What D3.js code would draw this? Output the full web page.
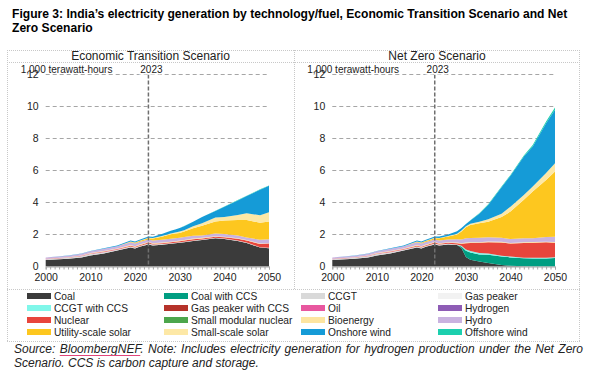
<!DOCTYPE html>
<html>
<head>
<meta charset="utf-8">
<script src="https://cdn.jsdelivr.net/npm/d3@7"></script>
<style>
  body { margin: 0; background: #fff; }
  text { font-family: "Liberation Sans", Arial, sans-serif; }
</style>
</head>
<body>
<div id="chart"></div>
<script>
// values in 1,000 terawatt-hours
var years = [2000, 2005, 2008, 2010, 2013, 2016, 2019, 2020, 2021, 2023, 2024, 2026,
             2028, 2029, 2030, 2031, 2033, 2035, 2038, 2040, 2043, 2045, 2048, 2050];

// Economic Transition Scenario
var etsCoal     = [.41,.48,.57,.68,.82,1.0,1.18,1.12,1.23,1.38,1.32,1.36,1.42,1.45,1.48,1.52,1.6,1.66,1.76,1.72,1.6,1.47,1.18,1.14];
var etsCcgt     = [.05,.06,.07,.10,.07,.05,.07,.065,.05,.06,.05,.04,.03,.03,.03,.03,.03,.03,.03,.03,.03,.03,.03,.03];
var etsOil      = [.01,.01,.01,.01,.01,.005,.005,.005,.005,.005,0,0,0,0,0,0,0,0,0,0,0,0,0,0];
var etsNuclear  = [.017,.017,.015,.026,.034,.038,.045,.043,.047,.048,.05,.055,.06,.065,.07,.07,.075,.06,.07,.08,.1,.12,.2,.26];
var etsBio      = [.005,.01,.015,.02,.03,.035,.04,.04,.04,.04,.04,.04,.04,.04,.04,.04,.04,.04,.03,.03,.03,.03,.03,.03];
var etsHydro    = [.075,.10,.115,.115,.14,.13,.17,.16,.16,.15,.16,.17,.18,.18,.18,.18,.18,.15,.17,.17,.17,.17,.23,.25];
var etsUSolar   = [0,0,0,0,.003,.012,.04,.05,.06,.09,.13,.2,.28,.29,.3,.34,.47,.6,.75,.85,.97,1.08,1.07,1.1];
var etsSSolar   = [0,0,0,0,0,.002,.01,.012,.015,.02,.025,.04,.06,.07,.08,.09,.12,.17,.25,.22,.32,.43,.46,.58];
var etsOnshore  = [.002,.006,.015,.02,.035,.045,.065,.06,.07,.08,.09,.12,.16,.19,.22,.25,.28,.38,.41,.63,.91,1.07,1.6,1.65];
var etsOffshore = [0,0,0,0,0,0,0,0,0,0,0,0,0,.002,.004,.005,.007,.01,.012,.015,.02,.022,.025,.03];

// Net Zero Scenario
var nzsCoal     = [.41,.48,.57,.68,.82,1.0,1.18,1.12,1.23,1.38,1.32,1.38,1.35,1.15,.6,.42,.32,.22,.1,.05,.01,0,0,0];
var nzsCoalCcs  = [0,0,0,0,0,0,0,0,0,0,0,0,0,.1,.38,.45,.43,.52,.52,.52,.5,.5,.5,.53];
var nzsCcgt     = [.05,.06,.07,.10,.07,.05,.07,.065,.05,.06,.05,.04,.03,.02,.01,0,0,0,0,0,0,0,0,0];
var nzsCcgtCcs  = [0,0,0,0,0,0,0,0,0,0,0,0,0,.03,.08,.1,.09,.08,.05,.05,.04,.05,.05,.05];
var nzsOil      = [.01,.01,.01,.01,.01,.005,.005,.005,.005,.005,0,0,0,0,0,0,0,0,0,0,0,0,0,0];
var nzsNuclear  = [.017,.017,.015,.026,.034,.038,.045,.043,.047,.048,.05,.06,.08,.12,.39,.5,.64,.7,.83,.81,.92,.94,.96,.91];
var nzsBio      = [.005,.01,.015,.02,.03,.035,.04,.04,.04,.04,.04,.04,.04,.04,.04,.04,.04,.04,.04,.04,.04,.04,.04,.04];
var nzsHydro    = [.075,.10,.115,.115,.14,.13,.17,.16,.16,.15,.16,.17,.2,.23,.27,.27,.28,.27,.26,.25,.26,.23,.3,.33];
var nzsUSolar   = [0,0,0,0,.003,.012,.04,.05,.06,.09,.14,.18,.3,.5,.68,.82,.9,.97,1.3,1.71,2.4,2.92,3.55,4.07];
var nzsSSolar   = [0,0,0,0,0,.002,.01,.012,.015,.02,.025,.03,.05,.06,.06,.07,.1,.15,.2,.31,.3,.32,.45,.52];
var nzsOnshore  = [.002,.006,.015,.02,.035,.045,.065,.06,.07,.08,.09,.1,.15,.15,.14,.2,.5,.9,1.65,1.93,2.4,2.5,3.1,3.35];
var nzsOffshore = [0,0,0,0,0,0,0,0,0,0,0,0,0,0,.01,.02,.03,.04,.05,.05,.07,.1,.12,.13];

var seriesNames = ["Coal", "Coal with CCS", "CCGT", "Gas peaker",
                   "CCGT with CCS", "Gas peaker with CCS", "Oil", "Hydrogen",
                   "Nuclear", "Small modular nuclear", "Bioenergy", "Hydro",
                   "Utility-scale solar", "Small-scale solar", "Onshore wind", "Offshore wind"];
var seriesColors = ["#3b3b3b", "#009e82", "#d9d9d9", "#f2f2f2",
                    "#80f7ea", "#b5322a", "#e8579f", "#8e5cb5",
                    "#e8453c", "#4ca64c", "#fde5a0", "#c9b3e0",
                    "#fdc71f", "#fde8a6", "#159bd7", "#1ccfae"];
var yTicks = [0, 2, 4, 6, 8, 10, 12];
var xLabels = [2000, 2010, 2020, 2030, 2040, 2050];

var etsSeries = {"Coal": etsCoal, "CCGT": etsCcgt, "Oil": etsOil, "Nuclear": etsNuclear,
                 "Bioenergy": etsBio, "Hydro": etsHydro, "Utility-scale solar": etsUSolar,
                 "Small-scale solar": etsSSolar, "Onshore wind": etsOnshore, "Offshore wind": etsOffshore};
var nzsSeries = {"Coal": nzsCoal, "Coal with CCS": nzsCoalCcs, "CCGT": nzsCcgt, "CCGT with CCS": nzsCcgtCcs,
                 "Oil": nzsOil, "Nuclear": nzsNuclear, "Bioenergy": nzsBio, "Hydro": nzsHydro,
                 "Utility-scale solar": nzsUSolar, "Small-scale solar": nzsSSolar,
                 "Onshore wind": nzsOnshore, "Offshore wind": nzsOffshore};

function buildRows(series) {
    return years.map(function(yr, i) {
        var row = {year: yr};
        seriesNames.forEach(function(name) {
            row[name] = series[name] ? series[name][i] : 0;
        });
        return row;
    });
}

var svg = d3.select("#chart").append("svg")
    .attr("width", 600)
    .attr("height", 374);

svg.append("rect").attr("width", 600).attr("height", 374).attr("fill", "#fff");

// title
var title = svg.append("text")
    .attr("x", 12)
    .attr("y", 18)
    .style("font-size", "12.1px")
    .style("font-weight", "bold")
    .attr("fill", "#000");
title.append("tspan").attr("x", 12).text("Figure 3: India\u2019s electricity generation by technology/fuel, Economic Transition Scenario and Net");
title.append("tspan").attr("x", 12).attr("dy", 13.8).text("Zero Scenario");

// table frame
function dotted(x1, y1, x2, y2) {
    svg.append("line")
        .attr("x1", x1).attr("y1", y1).attr("x2", x2).attr("y2", y2)
        .attr("stroke", "#c8c8c8")
        .attr("stroke-width", 1)
        .attr("stroke-dasharray", "1,1");
}
dotted(7, 50.5, 580, 50.5);
dotted(7, 62.5, 580, 62.5);
dotted(7, 289.5, 580, 289.5);
dotted(7, 341.5, 580, 341.5);
dotted(7.5, 50, 7.5, 342);
dotted(579.5, 50, 579.5, 342);
dotted(294.5, 50, 294.5, 289);

svg.append("text").attr("x", 150.5).attr("y", 60).attr("text-anchor", "middle")
    .style("font-size", "12px").attr("fill", "#222").text("Economic Transition Scenario");
svg.append("text").attr("x", 437).attr("y", 60).attr("text-anchor", "middle")
    .style("font-size", "12px").attr("fill", "#222").text("Net Zero Scenario");

function drawPanel(rows, left, right) {
    var g = svg.append("g");
    var x = d3.scaleLinear().domain([2000, 2050]).range([left, right]);
    var y = d3.scaleLinear().domain([0, 12]).range([266.5, 74.5]);

    // gridlines
    g.selectAll(".grid").data(yTicks.filter(function(d) { return d > 0; }))
        .enter().append("line")
        .attr("x1", left).attr("x2", right)
        .attr("y1", function(d) { return y(d); })
        .attr("y2", function(d) { return y(d); })
        .attr("stroke", "#a6a6a6")
        .attr("stroke-dasharray", "4,3");

    var stack = d3.stack().keys(seriesNames);
    var layers = stack(rows);
    var area = d3.area()
        .x(function(d) { return x(d.data.year); })
        .y0(function(d) { return y(d[0]); })
        .y1(function(d) { return y(d[1]); });

    g.selectAll(".layer").data(layers)
        .enter().append("path")
        .attr("d", area)
        .attr("fill", function(d, i) { return seriesColors[i]; });

    // 2023 marker
    g.append("line")
        .attr("x1", x(2023)).attr("x2", x(2023))
        .attr("y1", y(12)).attr("y2", y(0))
        .attr("stroke", "#6f6f6f")
        .attr("stroke-width", 1.5)
        .attr("stroke-dasharray", "4,2");

    // x axis
    var xAxis = g.append("g")
        .attr("transform", "translate(0," + y(0) + ")")
        .call(d3.axisBottom(x)
            .tickValues(d3.range(2000, 2051))
            .tickSize(3)
            .tickPadding(4)
            .tickFormat(function(d) { return xLabels.indexOf(d) >= 0 ? d : ""; }));
    xAxis.select(".domain").attr("stroke", "#a6a6a6");
    xAxis.selectAll(".tick line").attr("stroke", "#a6a6a6");
    xAxis.selectAll("text").style("font-size", "10.5px").attr("fill", "#222")
        .style("font-family", "Liberation Sans, Arial, sans-serif");

    // y axis
    var yAxis = g.append("g")
        .attr("transform", "translate(" + left + ",0)")
        .call(d3.axisLeft(y).tickValues(yTicks).tickSize(0).tickPadding(7));
    yAxis.select(".domain").remove();
    yAxis.selectAll("text").style("font-size", "10.5px").attr("fill", "#222")
        .style("font-family", "Liberation Sans, Arial, sans-serif");

    g.append("text")
        .attr("x", left - 25)
        .attr("y", 73)
        .style("font-size", "10px")
        .attr("fill", "#222")
        .text("1,000 terawatt-hours");

    g.append("text")
        .attr("x", x(2023) + 3)
        .attr("y", 73)
        .attr("text-anchor", "middle")
        .style("font-size", "10px")
        .attr("fill", "#222")
        .attr("stroke", "#fff")
        .attr("stroke-width", 3)
        .attr("paint-order", "stroke")
        .text("2023");
}

drawPanel(buildRows(etsSeries), 45.7, 269);
drawPanel(buildRows(nzsSeries), 332.3, 555);

// legend
var legend = svg.append("g");
seriesNames.forEach(function(name, i) {
    var col = i % 4, row = Math.floor(i / 4);
    var lx = 27 + col * 137;
    var ly = 296 + row * 12;
    legend.append("rect")
        .attr("x", lx).attr("y", ly - 3)
        .attr("width", 24).attr("height", 6)
        .attr("fill", seriesColors[i]);
    legend.append("text")
        .attr("x", lx + 27).attr("y", ly + 3.5)
        .style("font-size", "10.2px")
        .attr("fill", "#222")
        .text(name);
});

// source note
var src = svg.append("text")
    .attr("x", 14)
    .attr("y", 353)
    .style("font-size", "12px")
    .style("font-style", "italic")
    .attr("fill", "#222");
var srcLine1 = src.append("tspan").attr("x", 14)
    .text("Source: BloombergNEF. Note: Includes electricity generation for hydrogen production under the Net Zero");
src.append("tspan").attr("x", 14).attr("dy", 14)
    .text("Scenario. CCS is carbon capture and storage.");

// justify the first line like the original paragraph
var srcText = srcLine1.text();
var gaps = srcText.split(" ").length - 1;
var natural = srcLine1.node().getComputedTextLength();
srcLine1.style("word-spacing", ((583 - 14 - natural) / gaps) + "px");

var srcNode = srcLine1.node();
var ux0 = srcNode.getStartPositionOfChar(8).x;
var ux1 = srcNode.getEndPositionOfChar(19).x;
svg.append("line")
    .attr("x1", ux0).attr("x2", ux1)
    .attr("y1", 355.5).attr("y2", 355.5)
    .attr("stroke", "#e0457b")
    .attr("stroke-width", 1);
</script>
</body>
</html>
